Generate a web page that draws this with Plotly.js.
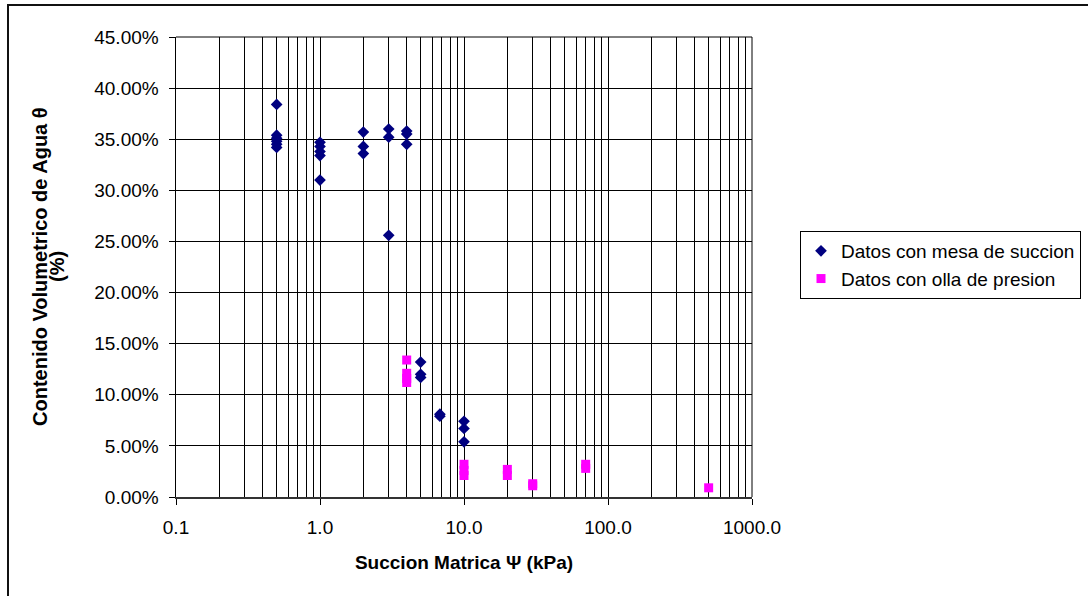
<!DOCTYPE html>
<html>
<head>
<meta charset="utf-8">
<script src="https://cdn.plot.ly/plotly-3.0.1.min.js"></script>
<style>
  html, body { margin: 0; padding: 0; background: #fff; overflow: hidden; }
  #chart { position: absolute; left: 0; top: 0; width: 1088px; height: 596px; }
  #frame { position: absolute; left: 7px; top: 4px; width: 1200px; height: 700px;
           border: 2px solid #111; pointer-events: none; }
</style>
</head>
<body>
<div id="chart"></div>
<div id="frame"></div>
<script>
// Succion matrica (kPa) and contenido volumetrico (%)
const mesaName = "Datos con mesa de succion";
const mesaX = [0.5, 0.5, 0.5, 0.5, 0.5, 0.5,
               1, 1, 1, 1, 1,
               2, 2, 2,
               3, 3, 3,
               4, 4, 4,
               5, 5, 5,
               6.8, 6.8,
               10, 10, 10];
const mesaY = [38.4, 35.4, 35.1, 34.8, 34.5, 34.2,
               34.7, 34.3, 33.8, 33.4, 31.0,
               35.7, 34.3, 33.6,
               36.0, 35.2, 25.6,
               35.8, 35.5, 34.5,
               13.2, 12.0, 11.7,
               8.1, 7.9,
               7.4, 6.7, 5.4];

const ollaName = "Datos con olla de presion";
const ollaX = [4, 4, 4, 4,
               10, 10, 10,
               20, 20,
               30, 30,
               70, 70,
               500];
const ollaY = [13.4, 12.1, 11.6, 11.2,
               3.2, 2.6, 2.1,
               2.7, 2.1,
               1.3, 1.1,
               3.2, 2.8,
               0.9];

const xTitle = "Succion Matrica Ψ (kPa)";
const yTitle1 = "Contenido Volumetrico de Agua θ";
const yTitle2 = "(%)";

const FONT = "Liberation Sans, Arial, sans-serif";

const traces = [
  { x: mesaX, y: mesaY, name: mesaName, type: "scatter", mode: "markers",
    marker: { symbol: "diamond", size: 9, color: "#000080", line: { width: 0 } } },
  { x: ollaX, y: ollaY, name: ollaName, type: "scatter", mode: "markers",
    marker: { symbol: "square", size: 9, color: "#FF00FF", line: { width: 0 } } }
];

const L = 176, R = 752, T = 37, B = 497;
const pw = R - L, ph = B - T;

const layout = {
  width: 1088, height: 596,
  margin: { l: L, r: 1088 - R, t: T, b: 596 - B, pad: 0, autoexpand: false },
  paper_bgcolor: "#fff", plot_bgcolor: "#fff",
  font: { family: FONT, size: 19, color: "#000" },
  showlegend: true,
  legend: {
    x: (800 - L) / pw, xanchor: "left",
    y: (B - 299) / ph, yanchor: "bottom",
    bordercolor: "#000", borderwidth: 1, bgcolor: "#fff",
    font: { family: FONT, size: 19, color: "#000" },
    itemwidth: 30, tracegroupgap: 0
  },
  xaxis: {
    type: "log", range: [-1, 3], dtick: 1, tickformat: ".1f",
    showgrid: true, gridcolor: "#000", gridwidth: 1,
    ticks: "outside", ticklen: 6, tickcolor: "#000", tickwidth: 1,
    ticklabelstandoff: 6,
    showline: true, linecolor: "#333", linewidth: 2, mirror: false,
    zeroline: false,
    tickfont: { family: FONT, size: 19, color: "#000" },
    minor: { dtick: "D1", showgrid: true, gridcolor: "#000", gridwidth: 1, ticks: "" },
    title: { text: xTitle, standoff: 19,
             font: { family: FONT, size: 19, color: "#000", weight: "bold" } },
    automargin: false
  },
  yaxis: {
    range: [0, 45], dtick: 5, tickformat: ".2f", ticksuffix: "%",
    showgrid: true, gridcolor: "#000", gridwidth: 1,
    ticks: "outside", ticklen: 6, tickcolor: "#000", tickwidth: 1,
    ticklabelstandoff: 6,
    showline: true, linecolor: "#000", linewidth: 1.5, mirror: false,
    zeroline: false,
    tickfont: { family: FONT, size: 19, color: "#000" },
    automargin: false
  },
  shapes: [
    { type: "line", xref: "paper", yref: "paper", x0: 0, x1: 1, y0: 1, y1: 1,
      line: { color: "#000", width: 1 } },
    { type: "line", xref: "paper", yref: "paper", x0: 1, x1: 1, y0: 0, y1: 1,
      line: { color: "#000", width: 1 } }
  ],
  annotations: [
    { text: yTitle1, xref: "paper", yref: "paper", x: (40 - L) / pw, y: 0.5,
      xanchor: "center", yanchor: "middle", textangle: -90, showarrow: false,
      font: { family: FONT, size: 20, color: "#000", weight: "bold" } },
    { text: yTitle2, xref: "paper", yref: "paper", x: (57 - L) / pw, y: 0.5,
      xanchor: "center", yanchor: "middle", textangle: -90, showarrow: false,
      font: { family: FONT, size: 20, color: "#000", weight: "bold" } }
  ]
};

Plotly.newPlot("chart", traces, layout, { staticPlot: true, displayModeBar: false });
</script>
</body>
</html>
